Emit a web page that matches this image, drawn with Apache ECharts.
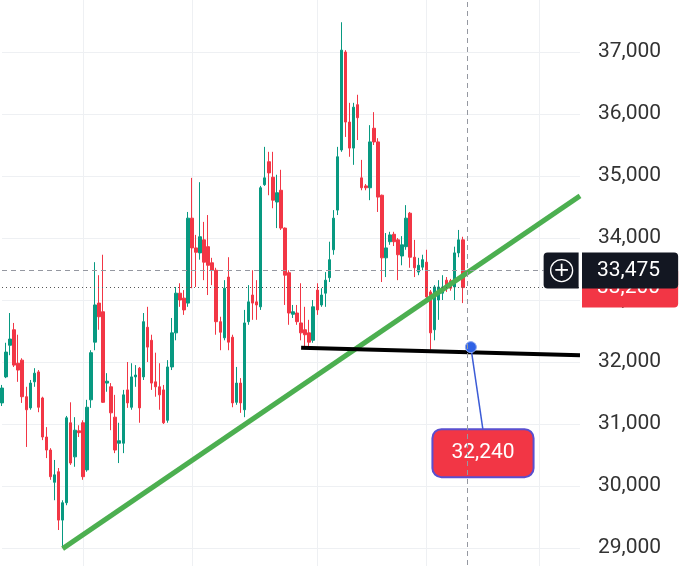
<!DOCTYPE html>
<html><head><meta charset="utf-8">
<script src="https://cdn.jsdelivr.net/npm/echarts@6.0.0/dist/echarts.min.js"></script>
<style>html,body{margin:0;padding:0;background:#fff}#c{width:684px;height:566px}</style>
</head><body><div id="c"></div>
<script>
// ---- data ----
const open = [31340,31760,32270,32520,31980,32030,31440,31260,31680,31840,31420,30790,30580,30060,30230,29450,29730,31020,30470,30890,
31020,30260,31390,32320,32950,32810,31660,31600,31110,30690,30690,31550,31270,31760,31900,31760,32560,32350,31680,31600,
31550,31060,31920,32470,33110,33030,32950,34320,33840,33760,33970,33860,33600,33480,32650,32390,33370,32400,31350,31660,
31230,32650,33080,32970,32890,34860,35230,34980,34580,34770,34160,33440,32770,32790,32630,32520,32470,32350,33160,32920,
33110,33360,33810,34450,35420,37000,35870,35450,36150,34970,34840,34810,35770,35550,34690,33680,33940,34060,33970,33710,
33860,34400,33690,33450,33530,33610,33130,32520,33000,33110,33320,33310,33210,33760,33970];
const close = [31580,32160,32370,31950,31870,31440,31230,31660,31820,31270,30790,30580,30150,30180,29450,29730,31100,30370,30900,30860,
30150,31270,32150,32920,32730,31350,31690,31180,30580,30730,31470,31340,31760,31790,31260,32650,32240,31660,31600,31470,
31020,31920,32470,33110,33000,32840,34320,33840,33770,34020,33610,33560,33480,32650,32480,33190,32320,31340,31660,31340,
32630,32970,32950,32920,34810,34970,35050,34610,34730,34160,33400,32790,32810,32650,32470,32440,32320,32890,32840,33080,
33320,33650,34320,35310,37030,35870,35450,36110,35940,34810,34810,35550,35550,34660,33680,33840,34050,33940,33730,33890,
34320,33690,33520,33560,33650,33050,32470,33210,33210,33210,33190,33190,33760,33970,33200];
const low = [31290,31740,32110,31920,31680,31340,30630,31230,31600,31190,30740,30450,30100,29770,29290,29000,29690,30340,30310,30790,
30100,30230,31260,32190,32520,31340,31520,30900,30530,30370,30530,31260,31230,31600,31020,31710,32000,31550,31440,31230,
31000,31020,31870,32350,32890,32760,32890,33190,33210,33650,33320,33080,33240,32440,32190,32350,32190,31270,31310,31180,
31110,32600,32680,32680,32840,34840,34690,34480,34160,34130,32920,32600,32710,32600,32350,32230,32240,32310,32760,32890,
32890,33290,33730,34370,35390,35630,35310,35180,35580,34770,34770,34610,35500,34420,33290,33370,33890,33870,33320,33560,
33810,33520,33370,33400,33480,33000,32200,32350,32680,33000,33130,33150,33000,33690,32950];
const high = [31630,32310,32790,32630,32440,32060,31600,31710,31900,31870,31440,30950,30610,30420,30290,29770,31130,31350,31110,30980,
31060,31390,32190,33610,33400,33730,31820,31660,31470,31020,31550,32000,31980,31950,31920,32790,32890,32440,32150,31980,
31630,32030,32710,33210,33270,33160,34420,34970,34050,34900,34260,34370,33680,33520,32730,33320,33690,32440,31920,31740,
32840,33240,33480,33320,34840,35470,35390,35390,35020,35100,34170,33480,32920,32920,33270,32890,32680,33000,33270,33190,
33450,33940,34450,35470,37480,37030,36180,36180,36310,35260,34870,35820,36030,35610,34700,34080,34100,34100,34000,34030,
34530,34420,33970,33680,33730,33810,33160,33240,33320,33400,33370,33340,33860,34130,34020];
const slotCount = 144;                       // candle slots incl. empty space on the right
const categories = Array.from({length: slotCount}, (_, i) => String(i));
const periodStarts = [20, 47, 78, 105, 133];   // vertical grid lines
const yTickMin = 28000, yTickMax = 38000, yTickStep = 1000;
const lastPrice = 33200, lastPriceLabel = '33,200';
const crossPrice = 33475, crossPriceLabel = '33,475', crossIndex = 115;
const trendLine = [[15, 28990], [143, 34680]];
const supportLine = [[74, 32230], [143, 32110]];
const calloutPoint = [116, 32240], calloutTip = [119, 30900], calloutBox = [119, 30530];
const calloutLabel = '32,240';

// ---- chart ----
const candles = categories.map((c, i) => i < open.length ? [open[i], close[i], low[i], high[i]] : '-');
const chart = echarts.init(document.getElementById('c'), null, {renderer: 'canvas'});
const UP = '#089981', DOWN = '#f23645';
chart.setOption({
  animation: false,
  backgroundColor: '#ffffff',
  grid: {left: 2, right: 104, top: -10, height: 620, containLabel: false, outerBoundsMode: 'none'},
  xAxis: {
    type: 'category', data: categories, boundaryGap: false,
    axisLine: {show: false}, axisTick: {show: false}, axisLabel: {show: false},
    splitLine: {show: true, interval: (idx) => periodStarts.includes(idx), lineStyle: {color: '#eef0f3', width: 1}}
  },
  yAxis: {
    type: 'value', position: 'right', min: yTickMin, max: yTickMax, interval: yTickStep, scale: true,
    axisLine: {show: false}, axisTick: {show: false},
    splitLine: {show: true, lineStyle: {color: '#eef0f3', width: 1}},
    axisLabel: {show: true, margin: 18, fontSize: 21, color: '#333', fontFamily: 'Roboto',
      showMinLabel: false, showMaxLabel: false,
      formatter: (v) => v.toLocaleString('en-US')}
  },
  series: [
    {
      type: 'candlestick', data: candles, barWidth: 3, z: 2,
      itemStyle: {color: UP, color0: DOWN, borderColor: UP, borderColor0: DOWN, borderWidth: 1},
      markLine: {
        silent: true, symbol: ['none', 'none'], animation: false, z: 5,
        label: {show: false},
        data: [
          [{coord: trendLine[0]}, {coord: trendLine[1], lineStyle: {color: '#4caf50', width: 5, type: 'solid'}}],
          [{coord: supportLine[0]}, {coord: supportLine[1], lineStyle: {color: '#000', width: 4, type: 'solid'}}],
          [{coord: calloutPoint}, {coord: calloutTip, lineStyle: {color: '#3b5bd6', width: 1.5, type: 'solid'}}]
        ]
      },
      markPoint: {
        silent: true, animation: false, z: 7,
        data: [
          {coord: calloutPoint, symbol: 'circle', symbolSize: 11,
            itemStyle: {color: '#2f62e6', borderColor: '#8aa6f0', borderWidth: 1}, label: {show: false}},
          {coord: calloutBox, symbol: 'circle', symbolSize: 1, itemStyle: {color: 'rgba(0,0,0,0)'},
            label: {show: true, position: 'inside', formatter: calloutLabel, color: '#fff', fontSize: 21,
              fontFamily: 'Roboto', lineHeight: 24, backgroundColor: '#f23645', borderColor: '#5a4fcf',
              borderWidth: 2, borderRadius: 8, padding: [11, 18]}}
        ]
      }
    },
    {
      type: 'line', data: [], z: 8,
      markLine: {
        silent: true, symbol: ['none', 'none'], animation: false, z: 8,
        data: [
          {xAxis: crossIndex, lineStyle: {color: '#9598a1', width: 1, type: [5, 4]}, label: {show: false}},
          {yAxis: lastPrice, lineStyle: {color: '#555', width: 1, type: [1, 3]},
            label: {show: true, position: 'end', distance: 2, formatter: lastPriceLabel, color: '#fff',
              fontSize: 21, fontFamily: 'Roboto', lineHeight: 24, backgroundColor: '#f23645',
              padding: [8, 18, 8, 15], borderRadius: [0, 4, 4, 0]}},
          [{coord: [0, crossPrice]}, {coord: [134, crossPrice], lineStyle: {color: '#9598a1', width: 1, type: [5, 4]},
            label: {show: true, position: 'end', distance: 0, formatter: '{c|+}', backgroundColor: '#131722',
              padding: [7, 6, 7, 7], borderRadius: [4, 0, 0, 4],
              rich: {c: {width: 22, height: 22, lineHeight: 22, align: 'center', verticalAlign: 'middle',
                borderColor: '#fff', borderWidth: 1.3, borderRadius: 12, color: '#fff', fontSize: 20,
                fontFamily: 'DejaVu Sans'}}}}],
          [{coord: [134, crossPrice]}, {coord: [143, crossPrice], lineStyle: {color: 'rgba(0,0,0,0)', width: 1, type: 'solid'},
            label: {show: true, position: 'end', distance: 2, formatter: crossPriceLabel, color: '#fff',
              fontSize: 21, fontFamily: 'Roboto', lineHeight: 24, backgroundColor: '#131722',
              padding: [6, 18, 6, 15], borderRadius: [0, 4, 4, 0]}}]
        ]
      }
    }
  ]
});
</script></body></html>
